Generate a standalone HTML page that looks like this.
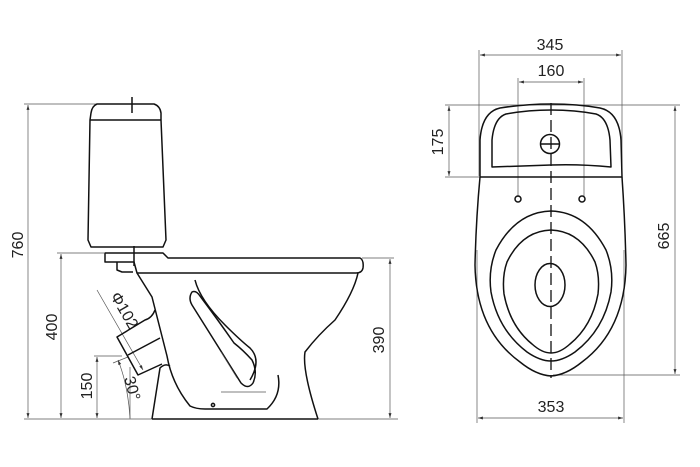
<!DOCTYPE html>
<html><head><meta charset="utf-8"><style>
html,body{margin:0;padding:0;background:#fff}
svg{display:block}
text{font-family:"Liberation Sans",sans-serif;font-size:16px;fill:#222}
.o{fill:none;stroke:#111;stroke-width:1.5;stroke-linejoin:round}
.d{fill:none;stroke:#555;stroke-width:0.7}
</style></head><body>
<svg width="700" height="467" viewBox="0 0 700 467" xmlns="http://www.w3.org/2000/svg">
<defs>
<marker id="a" viewBox="0 0 10 10" refX="10" refY="5" markerWidth="7" markerHeight="7" orient="auto-start-reverse"><path d="M0,2 L10,5 L0,8 z" fill="#333"/></marker>
</defs>
<line class="d" x1="24" y1="104" x2="98" y2="104"/>
<line class="d" x1="24" y1="419" x2="398" y2="419"/>
<line class="d" x1="28" y1="105" x2="28" y2="418" marker-start="url(#a)" marker-end="url(#a)"/>
<text transform="translate(23,245) rotate(-90)" text-anchor="middle">760</text>
<line class="d" x1="57" y1="253" x2="104" y2="253"/>
<line class="d" x1="61" y1="254" x2="61" y2="418" marker-start="url(#a)" marker-end="url(#a)"/>
<text transform="translate(57,327) rotate(-90)" text-anchor="middle">400</text>
<line class="d" x1="94" y1="356" x2="122" y2="356"/>
<line class="d" x1="97" y1="357" x2="97" y2="418" marker-start="url(#a)" marker-end="url(#a)"/>
<text transform="translate(92,386) rotate(-90)" text-anchor="middle">150</text>
<line class="d" x1="362" y1="258" x2="394" y2="258"/>
<line class="d" x1="390" y1="259" x2="390" y2="418" marker-start="url(#a)" marker-end="url(#a)"/>
<text transform="translate(384,340) rotate(-90)" text-anchor="middle">390</text>
<line class="d" x1="97" y1="290" x2="143" y2="370" marker-end="url(#a)"/>
<text transform="translate(110,296) rotate(60)" font-size="14">Φ102</text>
<line class="d" x1="130" y1="367" x2="130" y2="419"/>
<line class="d" x1="113" y1="363" x2="128" y2="357"/>
<path class="d" d="M118,360 Q128,385 130,418" marker-start="url(#a)"/>
<text transform="translate(124,378) rotate(75)" font-size="13">30°</text>
<path class="o" d="M97,104 L154,104 Q160,106 161,113 L161,120 L166,240 L163,247 L91,247 L88,240 L90,120 L91,113 Q92,106 97,104 Z"/>
<line class="o" x1="90" y1="120" x2="161" y2="120"/>
<line class="o" x1="132" y1="97" x2="132" y2="113"/>
<line class="o" x1="134" y1="246" x2="134" y2="266"/>
<path class="o" d="M105,253 L163,253 L168,258 L360,258 Q364,260 363,268 Q362,273 356,273 L137,273 L134,262 L105,262 Z"/>
<path class="o" d="M117,262 L117,270 L122,272 L133,272"/>
<path class="o" d="M137,273 L152,297 L167,356 Q172,384 190,406 Q196,409 205,409 L267,409 Q282,395 278,375"/>
<path class="o" d="M358,273 Q354,292 335,320 Q318,335 305,352 Q302,370 318,419"/>
<line class="o" x1="152" y1="419" x2="318" y2="419"/>
<path class="o" d="M152,419 L160,368 Q165,363 170,366"/>
<path class="o" d="M155,310 Q152,318 145,320 L117,337 L138,375 L162,364"/>
<line class="o" x1="128" y1="355" x2="160" y2="338"/>
<path class="o" d="M195,280 Q200,300 225,325 Q240,340 250,348 Q262,360 250,380"/>
<path class="o" d="M192,292 Q188,298 192,305 L241,383 Q248,390 253,383 Q258,372 252,360 Q243,350 234,343 Q218,320 200,296 Q196,290 192,292 Z"/>
<line class="d" x1="221" y1="352" x2="237" y2="378"/>
<line class="d" x1="221" y1="392" x2="266" y2="392"/>
<circle cx="213" cy="405" r="1.6" class="o" stroke-width="1"/>
<line class="d" x1="479" y1="50" x2="479" y2="176"/>
<line class="d" x1="622" y1="50" x2="622" y2="176"/>
<line class="d" x1="480" y1="55" x2="621" y2="55" marker-start="url(#a)" marker-end="url(#a)"/>
<text x="550" y="50" text-anchor="middle">345</text>
<line class="d" x1="518" y1="78" x2="518" y2="197"/>
<line class="d" x1="584" y1="78" x2="584" y2="197"/>
<line class="d" x1="519" y1="82" x2="583" y2="82" marker-start="url(#a)" marker-end="url(#a)"/>
<text x="551" y="76" text-anchor="middle">160</text>
<line class="d" x1="445" y1="105" x2="680" y2="105"/>
<line class="d" x1="445" y1="177" x2="479" y2="177"/>
<line class="d" x1="449" y1="106" x2="449" y2="176" marker-start="url(#a)" marker-end="url(#a)"/>
<text transform="translate(443,142) rotate(-90)" text-anchor="middle">175</text>
<line class="d" x1="553" y1="375" x2="680" y2="375"/>
<line class="d" x1="675" y1="106" x2="675" y2="374" marker-start="url(#a)" marker-end="url(#a)"/>
<text transform="translate(669,236) rotate(-90)" text-anchor="middle">665</text>
<line class="d" x1="477" y1="250" x2="477" y2="423"/>
<line class="d" x1="624" y1="250" x2="624" y2="423"/>
<line class="d" x1="478" y1="418" x2="623" y2="418" marker-start="url(#a)" marker-end="url(#a)"/>
<text x="551" y="412" text-anchor="middle">353</text>
<path class="o" d="M480,177 L480,140 Q482,112 500,108 Q525,104 551,104 Q578,104 600,108 Q619,112 621,140 L622,177 Z"/>
<path class="o" d="M492,167 L492,140 Q494,118 506,114 Q528,110 551,110 Q575,110 596,114 Q608,118 610,140 L611,167 Q580,164 551,165 Q522,166 492,167 Z"/>
<circle class="o" cx="550" cy="144" r="9.5"/>
<line class="o" x1="541" y1="144" x2="559" y2="144"/>
<path class="o" d="M480,177 Q476,220 475,265 Q476,330 520,362 Q536,375 551,376 Q566,375 582,362 Q625,330 626,265 Q625,220 622,177"/>
<circle class="o" cx="518" cy="199" r="3" stroke-width="1.2"/>
<circle class="o" cx="582" cy="199" r="3" stroke-width="1.2"/>
<path class="o" d="M551,211 Q586,212 606,250 Q614,270 611,292 Q604,330 575,352 Q562,361 551,361 Q540,361 527,352 Q498,330 491,292 Q488,270 496,250 Q516,212 551,211 Z"/>
<path class="o" d="M551,230 Q580,231 595,262 Q600,276 598,294 Q592,326 570,344 Q560,353 551,353 Q542,353 532,344 Q510,326 504,294 Q502,276 507,262 Q522,231 551,230 Z"/>
<ellipse class="o" cx="550" cy="285" rx="15" ry="21.5"/>
<line stroke="#111" stroke-width="1.3" stroke-dasharray="12,5" x1="551" y1="103" x2="551" y2="378"/>
</svg>
</body></html>
